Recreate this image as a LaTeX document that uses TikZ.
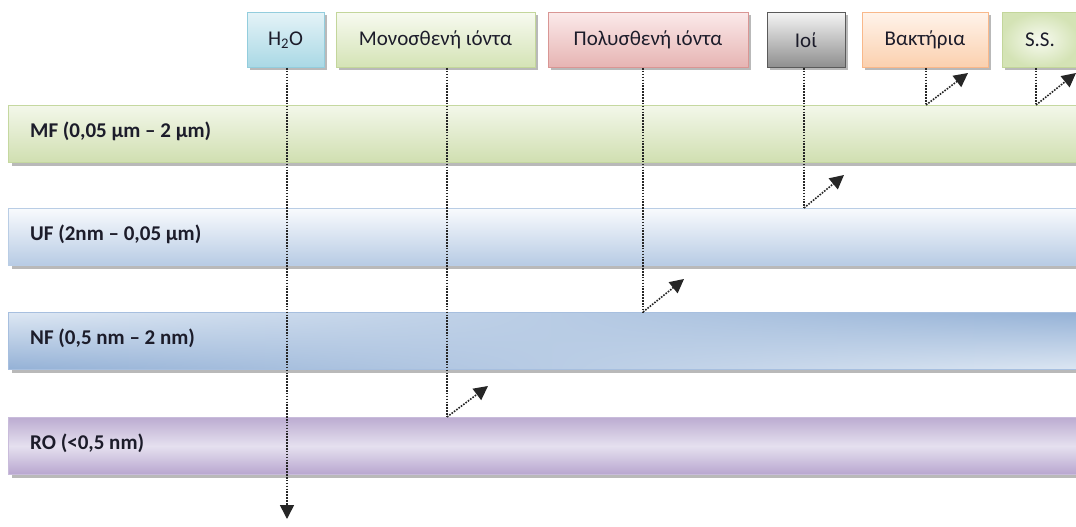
\documentclass[tikz,border=0pt]{standalone}
\usepackage{fontspec}
\setmainfont{Carlito}
\usetikzlibrary{arrows.meta,shadows,calc}
\definecolor{txt}{HTML}{1C1C2A}
\definecolor{h2oB}{HTML}{93CDDD}\definecolor{h2oT}{HTML}{E4F3F7}\definecolor{h2oD}{HTML}{A9D8E5}
\definecolor{grB}{HTML}{C3D69B}\definecolor{grT}{HTML}{F7FAF0}\definecolor{grD}{HTML}{D4E3B5}
\definecolor{rdB}{HTML}{D99694}\definecolor{rdT}{HTML}{FBE9E9}\definecolor{rdD}{HTML}{E6B4B3}
\definecolor{gyB}{HTML}{5A5A5A}\definecolor{gyT}{HTML}{F4F4F4}\definecolor{gyD}{HTML}{8E8E8E}
\definecolor{orB}{HTML}{F9B88A}\definecolor{orT}{HTML}{FFF3EA}\definecolor{orD}{HTML}{FBD0AE}
\definecolor{mfT}{HTML}{F3F7EA}\definecolor{mfD}{HTML}{D0DFB0}\definecolor{mfB}{HTML}{C5D8A0}
\definecolor{ufT}{HTML}{F8FAFD}\definecolor{ufD}{HTML}{B7CBE4}\definecolor{ufB}{HTML}{B9CDE5}
\definecolor{nfB}{HTML}{A7BFDF}
\definecolor{roT}{HTML}{BCACD1}\definecolor{roM}{HTML}{E5E0EF}\definecolor{roD}{HTML}{B8A6CF}\definecolor{roB}{HTML}{C9BCDB}
% bilinear blend over the central 25bp..75bp area (where the path is mapped):
% light at top-left and bottom-right, dark at top-right and bottom-left
\pgfdeclarefunctionalshading{nfbil}{\pgfpoint{0bp}{0bp}}{\pgfpoint{100bp}{100bp}}{}{%
  25 sub 50 div exch 25 sub 50 div 2 copy mul 2 mul 3 1 roll add sub 1 add
  dup 0 lt {pop 0} if dup 1 gt {pop 1} if
  dup dup -0.287 mul 0.867 add 3 1 roll -0.212 mul 0.906 add exch -0.114 mul 0.953 add}
\tikzset{
  shad/.style={drop shadow={shadow xshift=3pt, shadow yshift=-3pt, fill=black!50, opacity=0.55}},
  topbox/.style={shad, draw, line width=1pt, minimum height=55pt, inner sep=0pt,
    font=\fontsize{21}{24}\selectfont, text=txt},
  bar/.style={shad, draw, line width=1pt, anchor=north west, minimum width=1085pt,
    minimum height=57pt, inner sep=0pt},
  bartext/.style={anchor=west, inner sep=0pt, font=\bfseries\fontsize{21}{24}\selectfont, text=txt},
  dotline/.style={line width=1.6pt, dash pattern=on 1.6pt off 1.3pt, color=black!85},
  dotarrow/.style={dotline, -{Triangle[length=14pt,width=14pt]}}
}
\begin{document}
\begin{tikzpicture}[x=1pt,y=-1pt]
\useasboundingbox (0,0) rectangle (1076,527);
\clip (0,0) rectangle (1076,527);
\fill[white] (0,0) rectangle (1076,527);
% bars
\node[bar, draw=mfB, top color=mfT, bottom color=mfD] (mf) at (8,105) {};
\node[bar, draw=ufB, top color=ufT, bottom color=ufD] (uf) at (8,208) {};
\node[bar, draw=nfB, shading=nfbil] (nf) at (8,312) {};
\node[bar, draw=roB, top color=roT, bottom color=roD, middle color=roM] (ro) at (8,417) {};
\node[bartext] (mfl) at ([xshift=22pt,yshift=3pt]mf.west) {MF (0,05 µm – 2 µm)};
\node[bartext] (ufl) at ([xshift=22pt,yshift=3pt]uf.west) {UF (2nm – 0,05 µm)};
\node[bartext] (nfl) at ([xshift=22pt,yshift=3pt]nf.west) {NF (0,5 nm – 2 nm)};
\node[bartext] (rol) at ([xshift=22pt,yshift=3pt]ro.west) {RO (<0,5 nm)};
% top boxes
\node[topbox, draw=h2oB, top color=h2oT, bottom color=h2oD, minimum width=77pt] (h2o) at (285.5,40) {H\textsubscript{2}O};
\node[topbox, draw=grB, top color=grT, bottom color=grD, minimum width=199pt] (mono) at (435.5,40) {Μονοσθενή ιόντα};
\node[topbox, draw=rdB, top color=rdT, bottom color=rdD, minimum width=200pt] (poly) at (648,40) {Πολυσθενή ιόντα};
\node[topbox, draw=gyB, top color=gyT, bottom color=gyD, minimum width=78pt] (ioi) at (806,40) {Ιοί};
\node[topbox, draw=orB, top color=orT, bottom color=orD, minimum width=126pt] (bak) at (925,40) {Βακτήρια};
\node[topbox, draw=grB, inner color=grT, outer color=grD, minimum width=76pt] (ss) at (1040,40) {S.S.};
% connector points
\coordinate (h2oend) at (287,519);
\coordinate (m1) at (447,417);   \coordinate (m1t) at (488,386);
\coordinate (p1) at (643,312);   \coordinate (p1t) at (684,279);
\coordinate (i1) at (804,208);   \coordinate (i1t) at (844,175);
\coordinate (b1) at (926,105);   \coordinate (b1t) at (968,73);
\coordinate (s1) at (1036,105);  \coordinate (s1t) at (1076,73);
% connectors
\draw[dotarrow] (h2o.south -| h2oend) -- (h2oend);
\draw[dotline] (mono.south -| m1) -- (m1);
\draw[dotarrow] (m1) -- (m1t);
\draw[dotline] (poly.south -| p1) -- (p1);
\draw[dotarrow] (p1) -- (p1t);
\draw[dotline] (ioi.south -| i1) -- (i1);
\draw[dotarrow] (i1) -- (i1t);
\draw[dotline] (bak.south -| b1) -- (b1);
\draw[dotarrow] (b1) -- (b1t);
\draw[dotline] (ss.south -| s1) -- (s1);
\draw[dotarrow] (s1) -- (s1t);
\end{tikzpicture}
\end{document}
